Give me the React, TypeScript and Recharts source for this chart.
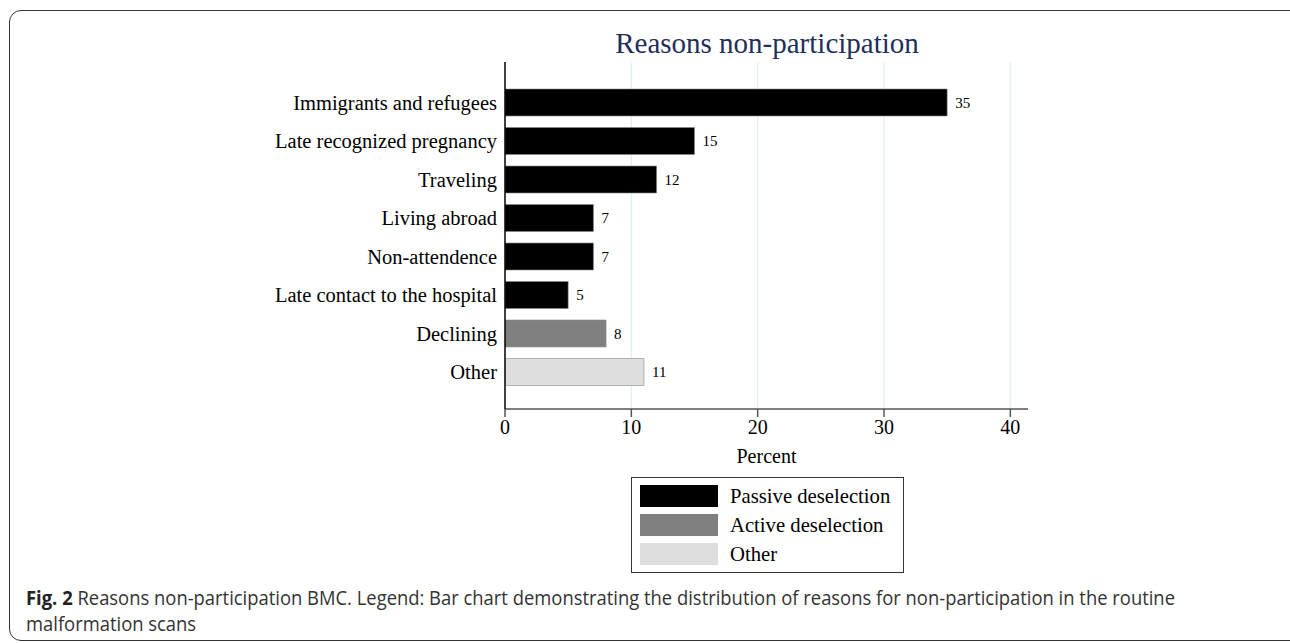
import React from "react";
import { Bar, BarChart, CartesianGrid, Cell, LabelList, XAxis, YAxis } from "recharts";

const categories = [
  "Immigrants and refugees",
  "Late recognized pregnancy",
  "Traveling",
  "Living abroad",
  "Non-attendence",
  "Late contact to the hospital",
  "Declining",
  "Other",
];
const percents = [35, 15, 12, 7, 7, 5, 8, 11];
const groups = ["passive", "passive", "passive", "passive", "passive", "passive", "active", "other"];
const xTicks = [0, 10, 20, 30, 40];

const legendItems = [
  { key: "passive", label: "Passive deselection", color: "#000000" },
  { key: "active", label: "Active deselection", color: "#808080" },
  { key: "other", label: "Other", color: "#dedede" },
];

const serif = "'Liberation Serif', 'Times New Roman', serif";
const caption = "'Open Sans', sans-serif";

const colorOf = (g: string) => legendItems.find((l) => l.key === g)?.color ?? "#000";

export default function App() {
  const rows = categories.map((name, i) => ({ name, value: percents[i], group: groups[i] }));

  return (
    <div style={{ position: "absolute", left: 0, top: 0, width: 1290, height: 643, background: "#fff", overflow: "hidden" }}>
      <div
        style={{
          position: "absolute",
          left: 9,
          top: 10,
          width: 1320,
          height: 629,
          border: "1.5px solid #333",
          borderRadius: 12,
        }}
      />
      <div
        style={{
          position: "absolute",
          left: 505,
          width: 524,
          top: 24,
          textAlign: "center",
          fontFamily: serif,
          fontSize: 29,
          color: "#1f2f5c",
          lineHeight: "38px",
        }}
      >
        Reasons non-participation
      </div>
      <div style={{ position: "absolute", left: 0, top: 0 }}>
        <BarChart
          layout="vertical"
          width={1290}
          height={470}
          data={rows}
          margin={{ top: 62, right: 262, bottom: 0, left: 0 }}
          barSize={27}
        >
          <CartesianGrid horizontal={false} verticalValues={[10, 20, 30, 40]} stroke="#e3edf0" strokeWidth={1.2} />
          <XAxis
            type="number"
            domain={[0, 41.4]}
            ticks={xTicks}
            allowDataOverflow
            height={61}
            stroke="#555"
            strokeWidth={1.5}
            tickSize={8}
            tickMargin={3}
            tick={{ fill: "#000", fontSize: 20, fontFamily: serif }}
            label={{ value: "Percent", position: "insideBottom", offset: 7, fill: "#000", fontSize: 20, fontFamily: serif }}
          />
          <YAxis
            type="category"
            dataKey="name"
            width={505}
            stroke="#000"
            strokeWidth={1.5}
            tickLine={false}
            tickSize={0}
            tickMargin={8}
            interval={0}
            padding={{ top: 21, bottom: 18 }}
            tick={{ fill: "#000", fontSize: 20.5, fontFamily: serif }}
          />
          <Bar dataKey="value" isAnimationActive={false} stroke="#8a8a8a" strokeWidth={0.6}>
            {rows.map((r) => (
              <Cell key={r.name} fill={colorOf(r.group)} />
            ))}
            <LabelList dataKey="value" position="right" offset={8} fill="#000" fontSize={15} fontFamily={serif} />
          </Bar>
        </BarChart>
      </div>
      <div
        style={{
          position: "absolute",
          left: 631,
          top: 477,
          width: 273,
          height: 96,
          border: "1px solid #333",
          boxSizing: "border-box",
        }}
      >
        {legendItems.map((l, i) => (
          <div key={l.key} style={{ position: "absolute", left: 8, top: 7 + i * 29, height: 22, display: "flex", alignItems: "center" }}>
            <div style={{ width: 78, height: 22, background: l.color }} />
            <span style={{ marginLeft: 12, fontFamily: serif, fontSize: 20.7, color: "#000", whiteSpace: "nowrap" }}>{l.label}</span>
          </div>
        ))}
      </div>
      <div
        style={{
          position: "absolute",
          left: 26,
          top: 585,
          fontFamily: caption,
          fontSize: 20,
          lineHeight: "26px",
          color: "#333",
          whiteSpace: "nowrap",
          transform: "scaleX(0.92)",
          transformOrigin: "left top",
        }}
      >
        <div>
          <b style={{ color: "#222" }}>Fig. 2</b> Reasons non-participation BMC. Legend: Bar chart demonstrating the distribution of reasons for non-participation in the routine
        </div>
        <div>malformation scans</div>
      </div>
    </div>
  );
}
